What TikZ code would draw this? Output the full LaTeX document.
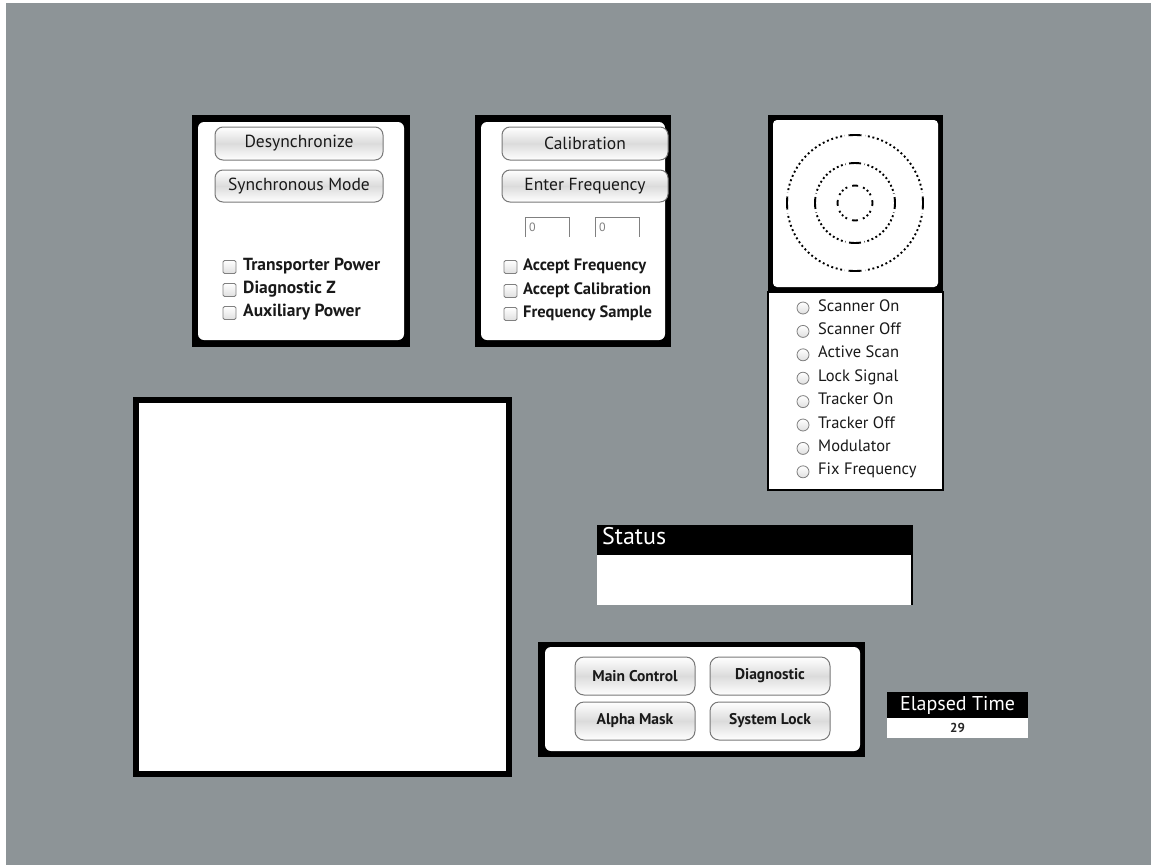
\documentclass[tikz,border=0pt]{standalone}
\usepackage{fontspec}
\setmainfont{PT Sans}
\definecolor{screen}{RGB}{141,148,151}
\definecolor{btnedge}{RGB}{120,120,120}
\tikzset{
	frame/.style={fill=black},
	panel/.style={fill=white, rounded corners=6pt},
	btn/.style={draw=btnedge, line width=1pt, rounded corners=8pt, top color=white, bottom color=white, middle color=gray!28, text=black!90, inner sep=0pt},
	chk/.style={draw=gray, line width=0.8pt, top color=white, bottom color=gray!25, rounded corners=1.5pt, minimum size=13pt, inner sep=0pt},
	radio/.style={circle, draw=gray, line width=0.8pt, top color=white, bottom color=gray!25, minimum size=12pt, inner sep=0pt},
	lbl/.style={anchor=west, inner sep=0pt, text height=0.6em, text depth=0pt, text=black!90},
	ring/.style={line width=1.9pt}
}
\begin{document}
\begin{tikzpicture}[x=1pt, y=-1pt]
		\useasboundingbox (0,0) rectangle (1151,865);
		\fill[white] (0,0) rectangle (1151,865);
		\fill[screen] (6,3) rectangle (1151,865);
		\fill[frame] (192,115) rectangle (410,347);
		\fill[panel] (198,122) rectangle (404,340);
		\node[btn, minimum width=168pt, minimum height=33pt, font=\fontsize{17.5}{17.5}\selectfont] (desync) at (299,143.5) {Desynchronize};
		\node[btn, minimum width=168pt, minimum height=32pt, font=\fontsize{17.5}{17.5}\selectfont] (syncmode) at (299,186) {Synchronous Mode};
		\foreach \y/\name/\txt in {267/transporter/Transporter Power, 290/diagz/Diagnostic Z, 313/auxpower/Auxiliary Power}{
			\node[chk] (\name box) at (229.5,\y) {};
			\node[lbl, font=\fontsize{17.5}{17.5}\selectfont\bfseries] (\name) at (243,\y) {\txt};}
		\fill[frame] (475,115) rectangle (671,347);
		\fill[panel] (481,122) rectangle (665,340);
		\node[btn, minimum width=166pt, minimum height=33pt, font=\fontsize{17.5}{17.5}\selectfont] (calib) at (585,143.5) {Calibration};
		\node[btn, minimum width=166pt, minimum height=32pt, font=\fontsize{17.5}{17.5}\selectfont] (enterfreq) at (585,186) {Enter Frequency};
		\foreach \x/\name in {525/fielda, 595/fieldb}{
			\draw[gray, line width=0.8pt] (\x,237) -- (\x,217) -- (\x+44,217) -- (\x+44,237);
			\node[lbl, text=gray, font=\fontsize{12}{12}\selectfont] (\name) at (\x+4,228) {0};}
		\foreach \y/\name/\txt in {267/acceptfreq/Accept Frequency, 291/acceptcal/Accept Calibration, 314/freqsample/Frequency Sample}{
			\node[chk] (\name box) at (510.5,\y) {};
			\node[lbl, font=\fontsize{16.5}{16.5}\selectfont\bfseries] (\name) at (523,\y) {\txt};}
		\fill[frame] (768,115) rectangle (943,292);
		\fill[white, rounded corners=4pt] (773,120) rectangle (938,287);
		\coordinate (radar) at (855,203);
		\foreach \r/\d in {68/13, 40/12, 17.5/6}{
			\pgfmathsetmacro{\quarter}{pi*\r/2}
			\pgfmathsetmacro{\dotoff}{\quarter/round(\quarter/4.6)-1.9}
			\pgfmathsetmacro{\gapon}{\d+7}
			\pgfmathsetmacro{\gapoff}{\quarter-\d-7}
			\pgfmathsetmacro{\dashoff}{\quarter-\d}
			\draw[ring, dash pattern=on 1.9pt off \dotoff pt, dash phase=0.95pt] (radar) circle (\r);
			\draw[white, line width=3pt, dash pattern=on \gapon pt off \gapoff pt, dash phase=\gapon/2] (radar) circle (\r);
			\draw[ring, dash pattern=on \d pt off \dashoff pt, dash phase=\d/2] (radar) circle (\r);}
		\draw[black, line width=1.5pt, fill=white] (768,292) rectangle (943,490);
		\foreach \i/\name/\txt in {0/scanon/Scanner On, 1/scanoff/Scanner Off, 2/activescan/Active Scan, 3/locksignal/Lock Signal, 4/trackon/Tracker On, 5/trackoff/Tracker Off, 6/modulator/Modulator, 7/fixfreq/Fix Frequency}{
			\node[radio] (\name dot) at (803,308+23.4*\i) {};
			\node[lbl, font=\fontsize{16.5}{16.5}\selectfont] (\name) at (818,308+23.4*\i) {\txt};}
		\fill[frame] (133,397) rectangle (512,777);
		\fill[white] (139,403) rectangle (506,771);
		\fill[black] (597,525) rectangle (913,555);
		\fill[white] (597,555) rectangle (913,605);
		\draw[black, line width=1.5pt] (912,555) -- (912,605);
		\node[lbl, text=white, font=\fontsize{24}{24}\selectfont] (status) at (602,541) {Status};
		\fill[frame] (538,642) rectangle (865,757);
		\fill[panel] (545,647) rectangle (860,751);
		\foreach \x/\y/\name/\txt in {635/676/maincontrol/Main Control, 770/676/diagnostic/Diagnostic, 635/721/alphamask/Alpha Mask, 770/721/systemlock/System Lock}{
			\node[btn, minimum width=120pt, minimum height=38pt, rounded corners=9pt, font=\fontsize{15.5}{15.5}\selectfont\bfseries] (\name) at (\x,\y) {\txt};}
		\fill[black] (887,692) rectangle (1028,718);
		\fill[white] (887,718) rectangle (1028,738);
		\node[text=white, inner sep=0pt, font=\fontsize{20}{20}\selectfont] (elapsed) at (957.5,705) {Elapsed Time};
		\node[text=black!85, inner sep=0pt, font=\fontsize{13}{13}\selectfont\bfseries] (elapsedval) at (957.5,728) {29};
\end{tikzpicture}
\end{document}
